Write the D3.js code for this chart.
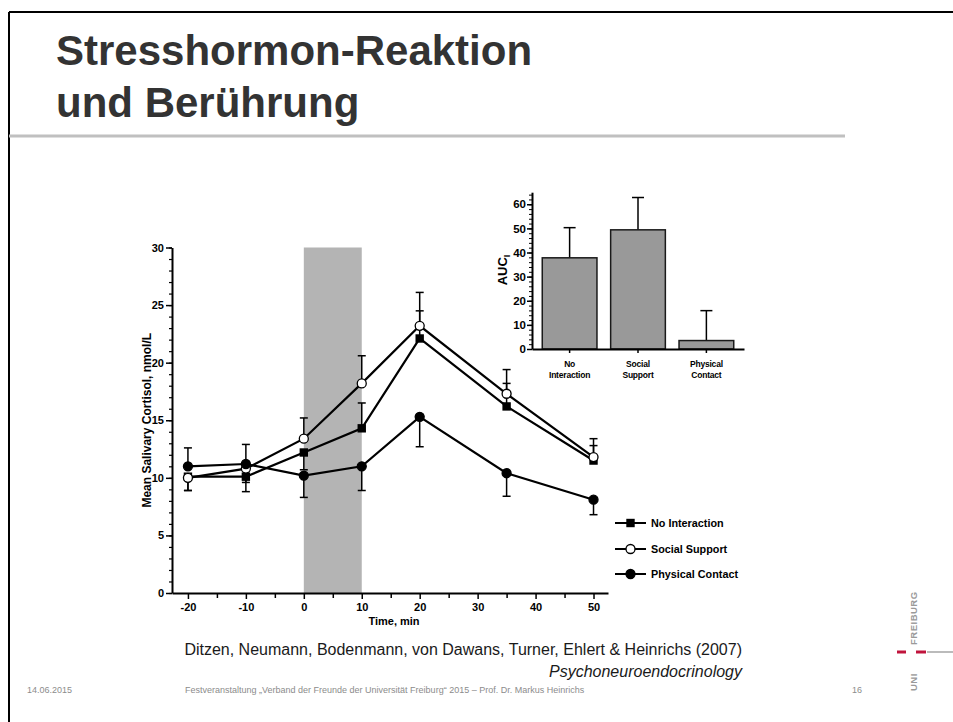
<!DOCTYPE html>
<html>
<head>
<meta charset="utf-8">
<script src="https://cdn.jsdelivr.net/npm/d3@7"></script>
<style>
    body { margin: 0; background: #fff; }
    svg { display: block; }
    .axis text { font-family: "Liberation Sans", Arial, sans-serif; font-weight: bold; fill: #000; }
    .axis path, .axis line { stroke: #000; }
</style>
</head>
<body>
<div id="chart"></div>
<script>
    // data
    var times = [-20, -10, 0, 10, 20, 35, 50];
    var noInteraction = [10.1, 10.1, 12.2, 14.3, 22.1, 16.2, 11.5];
    var socialSupport = [10.0, 10.8, 13.4, 18.2, 23.2, 17.3, 11.8];
    var physicalContact = [11.0, 11.2, 10.2, 11.0, 15.3, 10.4, 8.1];
    // signed error bars: + drawn upward, - drawn downward
    var noInteractionErr = [-1.2, -1.3, -1.5, 2.2, 2.4, 2.0, 1.3];
    var socialSupportErr = [-1.1, -1.2, 1.8, 2.4, 2.9, 2.1, 1.6];
    var physicalContactErr = [1.6, 1.7, -1.9, -2.1, -2.6, -2.0, -1.3];
    var stressWindow = [0, 10];

    var xTicks = [-20, -10, 0, 10, 20, 30, 40, 50];
    var yTicks = [0, 5, 10, 15, 20, 25, 30];

    var aucCategories = ["No Interaction", "Social Support", "Physical Contact"];
    var aucValues = [37.8, 49.4, 3.5];
    var aucErrors = [12.5, 13.4, 12.4];
    var aucTicks = [0, 10, 20, 30, 40, 50, 60];

    var series = [
        {name: "No Interaction", values: noInteraction, err: noInteractionErr, symbol: "square"},
        {name: "Social Support", values: socialSupport, err: socialSupportErr, symbol: "open"},
        {name: "Physical Contact", values: physicalContact, err: physicalContactErr, symbol: "dot"}
    ];

    var font = '"Liberation Sans", Arial, sans-serif';
    // plain hyphen for negatives, like the original figure
    var plain = function (d) { return String(d); };

    var svg = d3.select("#chart").append("svg")
            .attr("width", 953)
            .attr("height", 722);

    // slide frame, title and separator
    svg.append("line").attr("x1", 9).attr("y1", 12).attr("x2", 953).attr("y2", 12)
            .attr("stroke", "#000").attr("stroke-width", 2);
    svg.append("line").attr("x1", 9).attr("y1", 12).attr("x2", 9).attr("y2", 722)
            .attr("stroke", "#000").attr("stroke-width", 2);
    svg.append("line").attr("x1", 9).attr("y1", 136).attr("x2", 845).attr("y2", 136)
            .attr("stroke", "#c0c0c0").attr("stroke-width", 3);

    var title = svg.append("text")
            .style("font-family", font)
            .style("font-weight", "bold")
            .style("font-size", "42px")
            .attr("fill", "#333");
    title.append("tspan").attr("x", 56).attr("y", 65).text("Stresshormon-Reaktion");
    title.append("tspan").attr("x", 56).attr("y", 117).text("und Berührung");

    // ---------- main line chart ----------
    var x = d3.scaleLinear().domain([-22.75, 52.5]).range([172, 608]);
    var y = d3.scaleLinear().domain([0, 30]).range([593, 247.5]);

    // shaded stress period
    svg.append("rect")
            .attr("x", x(stressWindow[0]))
            .attr("y", y(30))
            .attr("width", x(stressWindow[1]) - x(stressWindow[0]))
            .attr("height", y(0) - y(30))
            .attr("fill", "#b4b4b4");

    // minor y ticks
    svg.append("g")
            .attr("class", "axis")
            .attr("transform", "translate(172,0)")
            .call(d3.axisLeft(y).tickValues(d3.range(0, 31, 1)).tickSize(3).tickSizeOuter(0).tickFormat(""))
            .call(function (g) { g.select(".domain").remove(); g.selectAll("line").attr("stroke-width", 1.2); });

    // y axis
    svg.append("g")
            .attr("class", "axis")
            .attr("transform", "translate(172,0)")
            .call(d3.axisLeft(y).tickValues(yTicks).tickSize(6).tickSizeOuter(0).tickPadding(2).tickFormat(plain))
            .call(function (g) {
                g.select(".domain").attr("stroke-width", 2);
                g.selectAll("line").attr("stroke-width", 1.5);
                g.selectAll("text").style("font-size", "11px");
            });

    // minor x ticks
    svg.append("g")
            .attr("class", "axis")
            .attr("transform", "translate(0,593)")
            .call(d3.axisBottom(x).tickValues(d3.range(-15, 51, 10)).tickSize(5).tickSizeOuter(0).tickFormat(""))
            .call(function (g) { g.select(".domain").remove(); g.selectAll("line").attr("stroke-width", 1.5); });

    // x axis
    svg.append("g")
            .attr("class", "axis")
            .attr("transform", "translate(0,593)")
            .call(d3.axisBottom(x).tickValues(xTicks).tickSize(6).tickSizeOuter(0).tickPadding(4).tickFormat(plain))
            .call(function (g) {
                g.select(".domain").attr("stroke-width", 2);
                g.selectAll("line").attr("stroke-width", 1.5);
                g.selectAll("text").style("font-size", "11px");
            });

    svg.append("text")
            .attr("x", 394)
            .attr("y", 625)
            .attr("text-anchor", "middle")
            .style("font-family", font)
            .style("font-weight", "bold")
            .style("font-size", "11px")
            .text("Time, min");

    svg.append("text")
            .attr("transform", "translate(151," + y(15) + ") rotate(-90)")
            .attr("text-anchor", "middle")
            .style("font-family", font)
            .style("font-weight", "bold")
            .style("font-size", "12px")
            .text("Mean Salivary Cortisol, nmol/L");

    // error bars
    series.forEach(function (s) {
        var eb = svg.append("g").attr("stroke", "#000").attr("stroke-width", 1.5);
        times.forEach(function (t, i) {
            var end = s.values[i] + s.err[i];
            eb.append("line")
                    .attr("x1", x(t)).attr("x2", x(t))
                    .attr("y1", y(s.values[i])).attr("y2", y(end));
            eb.append("line")
                    .attr("x1", x(t) - 4).attr("x2", x(t) + 4)
                    .attr("y1", y(end)).attr("y2", y(end));
        });
    });

    var line = d3.line()
            .x(function (d, i) { return x(times[i]); })
            .y(function (d) { return y(d); });

    series.forEach(function (s) {
        svg.append("path")
                .datum(s.values)
                .attr("fill", "none")
                .attr("stroke", "#000")
                .attr("stroke-width", 2.2)
                .attr("d", line);
    });

    function drawMarker(g, symbol, cx, cy) {
        if (symbol === "square") {
            g.append("rect")
                    .attr("x", cx - 4.2).attr("y", cy - 4.2)
                    .attr("width", 8.4).attr("height", 8.4)
                    .attr("fill", "#000");
        } else {
            g.append("circle")
                    .attr("cx", cx).attr("cy", cy).attr("r", 4.5)
                    .attr("fill", symbol === "open" ? "#fff" : "#000")
                    .attr("stroke", "#000")
                    .attr("stroke-width", 1.3);
        }
    }

    series.forEach(function (s) {
        var mg = svg.append("g");
        times.forEach(function (t, i) {
            drawMarker(mg, s.symbol, x(t), y(s.values[i]));
        });
    });

    // legend
    var legendY = [523, 549, 574];
    series.forEach(function (s, i) {
        var lg = svg.append("g");
        lg.append("line")
                .attr("x1", 615).attr("x2", 646)
                .attr("y1", legendY[i]).attr("y2", legendY[i])
                .attr("stroke", "#000").attr("stroke-width", 2);
        drawMarker(lg, s.symbol, 630.5, legendY[i]);
        lg.append("text")
                .attr("x", 651)
                .attr("y", legendY[i] + 4)
                .style("font-family", font)
                .style("font-weight", "bold")
                .style("font-size", "10.8px")
                .text(s.name);
    });

    // ---------- inset AUC bar chart ----------
    var bx = d3.scaleBand().domain(aucCategories).range([532, 744]).paddingInner(0.2).paddingOuter(0.15);
    var by = d3.scaleLinear().domain([0, 65]).range([349, 192.2]);

    // minor ticks
    svg.append("g")
            .attr("class", "axis")
            .attr("transform", "translate(532,0)")
            .call(d3.axisLeft(by).tickValues(d3.range(0, 65, 2)).tickSize(3).tickFormat(""))
            .call(function (g) { g.selectAll("line").attr("stroke-width", 1); g.select(".domain").remove(); });

    svg.append("g")
            .attr("class", "axis")
            .attr("transform", "translate(532,0)")
            .call(d3.axisLeft(by).tickValues(aucTicks).tickSize(5).tickSizeOuter(0).tickPadding(1))
            .call(function (g) {
                g.select(".domain").attr("stroke-width", 2);
                g.selectAll("line").attr("stroke-width", 1.5);
                g.selectAll("text").style("font-size", "11.5px");
            });

    // bar error bars (upward only)
    var berr = svg.append("g").attr("stroke", "#000").attr("stroke-width", 1.5);
    aucCategories.forEach(function (c, i) {
        var cx = bx(c) + bx.bandwidth() / 2;
        berr.append("line").attr("x1", cx).attr("x2", cx)
                .attr("y1", by(aucValues[i])).attr("y2", by(aucValues[i] + aucErrors[i]));
        berr.append("line").attr("x1", cx - 6).attr("x2", cx + 6)
                .attr("y1", by(aucValues[i] + aucErrors[i])).attr("y2", by(aucValues[i] + aucErrors[i]));
    });

    svg.append("g")
            .selectAll("rect")
            .data(aucValues)
            .enter().append("rect")
            .attr("x", function (d, i) { return bx(aucCategories[i]); })
            .attr("y", function (d) { return by(d); })
            .attr("width", bx.bandwidth())
            .attr("height", function (d) { return by(0) - by(d); })
            .attr("fill", "#999")
            .attr("stroke", "#1a1a1a")
            .attr("stroke-width", 1.5);

    svg.append("g")
            .attr("class", "axis")
            .attr("transform", "translate(0,349)")
            .call(d3.axisBottom(bx).tickSize(4).tickSizeOuter(0).tickFormat(""))
            .call(function (g) {
                g.select(".domain").attr("stroke-width", 2);
                g.selectAll("line").attr("stroke-width", 1.5);
            });

    aucCategories.forEach(function (c) {
        var words = c.split(" ");
        var t = svg.append("text")
                .attr("text-anchor", "middle")
                .style("font-family", font)
                .style("font-weight", "bold")
                .style("font-size", "8.5px")
                .style("letter-spacing", "-0.2px");
        words.forEach(function (w, j) {
            t.append("tspan")
                    .attr("x", bx(c) + bx.bandwidth() / 2)
                    .attr("y", 367 + j * 11)
                    .text(w);
        });
    });

    var aucLabel = svg.append("text")
            .attr("transform", "translate(507,270) rotate(-90)")
            .attr("text-anchor", "middle")
            .style("font-family", font)
            .style("font-weight", "bold")
            .style("font-size", "13px");
    aucLabel.append("tspan").text("AUC");
    aucLabel.append("tspan").attr("dy", 3).style("font-size", "9px").text("I");

    // ---------- citation and footer ----------
    svg.append("text")
            .attr("x", 742)
            .attr("y", 655)
            .attr("text-anchor", "end")
            .style("font-family", font)
            .style("font-size", "16px")
            .attr("fill", "#1a1a1a")
            .text("Ditzen, Neumann, Bodenmann, von Dawans, Turner, Ehlert & Heinrichs (2007)");
    svg.append("text")
            .attr("x", 742)
            .attr("y", 677)
            .attr("text-anchor", "end")
            .style("font-family", font)
            .style("font-size", "16px")
            .style("font-style", "italic")
            .attr("fill", "#1a1a1a")
            .text("Psychoneuroendocrinology");

    var footer = [
        {x: 27, text: "14.06.2015"},
        {x: 185, text: "Festveranstaltung „Verband der Freunde der Universität Freiburg“ 2015  –  Prof. Dr. Markus Heinrichs"},
        {x: 852, text: "16"}
    ];
    footer.forEach(function (f) {
        svg.append("text")
                .attr("x", f.x)
                .attr("y", 693)
                .style("font-family", font)
                .style("font-size", "9px")
                .attr("fill", "#8c8c8c")
                .text(f.text);
    });

    // university logo
    svg.append("text")
            .attr("transform", "translate(917,645) rotate(-90)")
            .style("font-family", font)
            .style("font-weight", "bold")
            .style("font-size", "9.5px")
            .style("letter-spacing", "0.5px")
            .attr("fill", "#9a9a9a")
            .text("FREIBURG");
    svg.append("text")
            .attr("transform", "translate(917,691) rotate(-90)")
            .style("font-family", font)
            .style("font-weight", "bold")
            .style("font-size", "9.5px")
            .style("letter-spacing", "0.5px")
            .attr("fill", "#9a9a9a")
            .text("UNI");
    svg.append("line").attr("x1", 897).attr("x2", 906).attr("y1", 652).attr("y2", 652)
            .attr("stroke", "#c0143c").attr("stroke-width", 3);
    svg.append("line").attr("x1", 916).attr("x2", 926).attr("y1", 652).attr("y2", 652)
            .attr("stroke", "#c0143c").attr("stroke-width", 3);
    svg.append("line").attr("x1", 927).attr("x2", 953).attr("y1", 652).attr("y2", 652)
            .attr("stroke", "#bbb").attr("stroke-width", 2);
</script>
</body>
</html>
